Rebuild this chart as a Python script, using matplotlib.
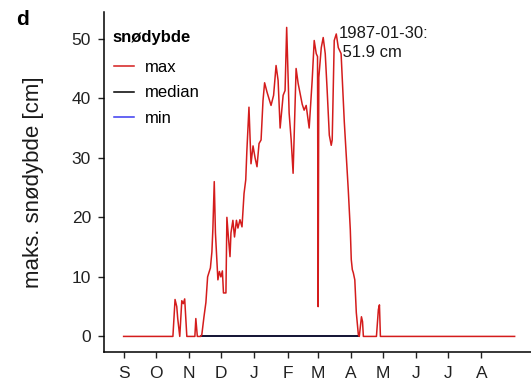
import matplotlib
matplotlib.use('Agg')
import matplotlib.pyplot as plt

plt.rcParams['font.family'] = ['Liberation Sans', 'DejaVu Sans']

# day 0 = 1. september
month_days = [0, 30, 61, 91, 122, 153, 181, 212, 242, 273, 303, 334]
month_labels = ['S', 'O', 'N', 'D', 'J', 'F', 'M', 'A', 'M', 'J', 'J', 'A']

max_days = [0, 46, 48, 49.6, 50.5, 52.4, 54.3, 55.7, 57, 59, 66.5, 67.4, 68.8, 72,
            73, 75, 76.8, 78.4, 79.6, 81, 82.4, 83.3, 84.6, 85.7, 87, 88, 89.4, 90.8,
            92.2, 93.2, 95.5, 96.4, 97.8, 99.3, 100.2, 102, 103.5, 105.3, 106.7, 108.6,
            110.5, 112.4, 114, 115, 117, 118.9, 120.8, 122.7, 124.5, 126.4, 128.3,
            130.1, 131.6, 133.9, 137.6, 140, 142.3, 144.2, 146.1, 148.9, 150.7, 152.2,
            154.5, 156.4, 158.2, 161, 162.9, 166.7, 168.5, 170.4, 173.2, 176, 177.9,
            179.8, 181, 181.6, 182.2, 184.5, 186.3, 188.2, 190, 192, 193.8, 194.7,
            196.6, 198.5, 200.4, 203, 206, 209.7, 211.6, 212.5, 213.5, 214.4, 215.8,
            217.2, 219.1, 220, 222, 223, 223.8, 236, 237.8, 238.8, 239.7, 365]
max_vals = [0, 0, 6.2, 5, 3, 0, 6, 5.5, 6.3, 0, 0, 3, 0, 0,
            0.3, 3.3, 5.7, 10, 10.7, 11.5, 14.2, 18, 26, 17.4, 12.9, 9.5, 10.9, 10,
            11, 7.3, 7.3, 20, 16.7, 13.4, 17.4, 19.5, 16.7, 19.5, 18.2, 19.6,
            18.4, 24, 26.3, 31, 38.5, 29, 32, 30, 28.5, 32.4, 33,
            39.6, 42.6, 41, 38.8, 40.5, 45.5, 43, 35, 40.5, 41.3, 51.9,
            37.5, 33, 27.4, 45, 42.5, 39, 38, 38.8, 35, 43, 49.7,
            47.5, 47, 5, 43.5, 48.5, 50.2, 47.5, 41.3, 33.8, 32.1, 33,
            49.7, 50.8, 48.5, 47.5, 36, 24.6, 17.9, 12.9, 11.2, 10.7, 9.5,
            4, 0.3, 0, 3.3, 2.5, 0, 0, 4.5, 5.3, 0, 0]

median_days = [72, 220]
median_vals = [0, 0]
min_days = [72, 220]
min_vals = [0, 0]

fig = plt.figure(figsize=(5.31, 3.85), dpi=100)
ax = fig.add_axes([0.196, 0.086, 0.81, 0.883])

l_min, = ax.plot(min_days, min_vals, color='#3a3af0', lw=1.1)
l_med, = ax.plot(median_days, median_vals, color='black', lw=1.1)
l_max, = ax.plot(max_days, max_vals, color='#d41c1c', lw=1.1)

ax.text(200.5, 52.2, '1987-01-30:\n 51.9 cm', fontsize=12, ha='left', va='top',
        color='#1a1a1a', linespacing=1.35)

ax.set_xlim(-18.25, 383.25)
ax.set_ylim(-2.6, 54.5)
ax.set_xticks(month_days)
ax.set_xticklabels(month_labels)
ax.set_yticks([0, 10, 20, 30, 40, 50])
ax.tick_params(axis='both', labelsize=12.5, colors='#222222', length=4.5, width=1,
               direction='out', pad=5)
ax.tick_params(axis='x', pad=6)
ax.spines['top'].set_visible(False)
ax.spines['right'].set_visible(False)
ax.spines['left'].set_linewidth(1.1)
ax.spines['bottom'].set_linewidth(1.1)
ax.set_ylabel('maks. snødybde [cm]', fontsize=16, color='#1a1a1a', labelpad=20)

# legend title as own text, entries below
ax.text(0.019, 0.9235, 'snødybde', transform=ax.transAxes, fontsize=12,
        fontweight='bold', ha='left', va='center')
leg = ax.legend([l_max, l_med, l_min], ['max', 'median', 'min'],
                loc='upper left', bbox_to_anchor=(0.003, 0.883), frameon=False,
                fontsize=12, handlelength=1.2, handletextpad=0.7,
                labelspacing=0.62, borderpad=0)

fig.text(0.030, 0.949, 'd', fontsize=15, fontweight='bold', va='center', ha='left')

fig.savefig('out.png', dpi=100)
